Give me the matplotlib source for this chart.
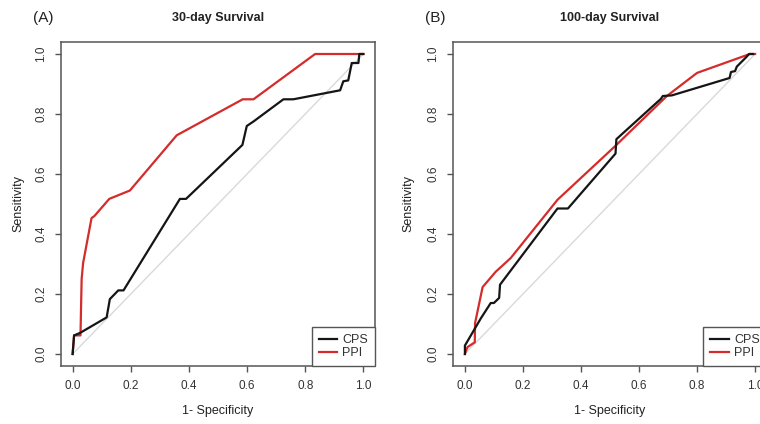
import matplotlib
matplotlib.use("Agg")
import matplotlib.pyplot as plt

plt.rcParams['font.family'] = ['Liberation Sans', 'DejaVu Sans']

# ---- data ----
a_cps_x = [0, 0.005, 0.025, 0.117, 0.128, 0.157, 0.175, 0.369, 0.39, 0.584, 0.599, 0.622,
           0.725, 0.759, 0.92, 0.931, 0.948, 0.96, 0.983, 0.986, 1.0]
a_cps_y = [0, 0.062, 0.07, 0.122, 0.183, 0.212, 0.212, 0.517, 0.517, 0.697, 0.76, 0.775,
           0.849, 0.849, 0.879, 0.909, 0.912, 0.97, 0.97, 1.0, 1.0]
a_ppi_x = [0, 0.005, 0.027, 0.031, 0.036, 0.065, 0.075, 0.126, 0.197, 0.358, 0.585, 0.622,
           0.834, 1.0]
a_ppi_y = [0, 0.062, 0.062, 0.25, 0.303, 0.453, 0.46, 0.517, 0.545, 0.729, 0.849, 0.849,
           1.0, 1.0]

b_cps_x = [0, 0, 0.055, 0.089, 0.1, 0.118, 0.121, 0.319, 0.355, 0.519, 0.522, 0.547, 0.661,
           0.675, 0.682, 0.713, 0.912, 0.917, 0.931, 0.937, 0.97, 0.979, 0.993]
b_cps_y = [0, 0.028, 0.119, 0.17, 0.17, 0.187, 0.231, 0.485, 0.485, 0.668, 0.716, 0.738, 0.838,
           0.85, 0.86, 0.862, 0.92, 0.94, 0.943, 0.958, 0.99, 1.0, 1.0]
b_ppi_x = [0, 0.009, 0.034, 0.035, 0.061, 0.106, 0.158, 0.319, 0.52, 0.696, 0.8, 0.982, 1.0]
b_ppi_y = [0, 0.023, 0.039, 0.103, 0.223, 0.274, 0.32, 0.514, 0.695, 0.86, 0.937, 1.0, 1.0]

ticks = [0.0, 0.2, 0.4, 0.6, 0.8, 1.0]
tick_labels = ["0.0", "0.2", "0.4", "0.6", "0.8", "1.0"]
titles = ["30-day Survival", "100-day Survival"]
panel_tags = ["(A)", "(B)"]
series_names = ["CPS", "PPI"]

W, H = 760, 424
fig = plt.figure(figsize=(W / 100, H / 100), dpi=100)

RED = '#d42b2b'
BLACK = '#151515'
GRID = '#555555'

def px(x0, y0, x1, y1):
    return [x0 / W, 1 - y1 / H, (x1 - x0) / W, (y1 - y0) / H]

boxes = [(61, 42, 375, 366), (453.3, 42, 766.7, 366)]
data = [(a_cps_x, a_cps_y, a_ppi_x, a_ppi_y), (b_cps_x, b_cps_y, b_ppi_x, b_ppi_y)]

for i, (box, d) in enumerate(zip(boxes, data)):
    ax = fig.add_axes(px(*box))
    ax.plot([0, 1], [0, 1], color='#d9d9d9', lw=1.0, zorder=1)
    ax.plot(d[0], d[1], color=BLACK, lw=1.6, label=series_names[0], zorder=3)
    ax.plot(d[2], d[3], color=RED, lw=1.6, label=series_names[1], zorder=2)
    ax.set_xlim(-0.04, 1.04)
    ax.set_ylim(-0.04, 1.04)
    ax.set_xticks(ticks)
    ax.set_xticklabels(tick_labels)
    ax.set_yticks(ticks)
    ax.set_yticklabels(tick_labels, rotation=90, va='center')
    ax.tick_params(direction='out', length=4, width=1.0, color=GRID, labelcolor='#333333',
                   labelsize=8.5, pad=6)
    for s in ax.spines.values():
        s.set_color(GRID)
        s.set_linewidth(1.1)
    h, l = ax.get_legend_handles_labels()
    leg = ax.legend(h, l, loc='lower right', borderaxespad=0, fancybox=False,
                    edgecolor=GRID, framealpha=1, fontsize=9, handlelength=1.5,
                    handletextpad=0.4, labelspacing=0.1, borderpad=0.55)
    leg.get_frame().set_linewidth(1.0)
    for t in leg.get_texts():
        t.set_color('#333333')

    cx = (box[0] + box[2]) / 2
    fig.text(cx / W, 1 - 18 / H, titles[i], ha='center', va='center', fontsize=9,
             fontweight='bold', color='#222222')
    fig.text((43 if i == 0 else 435) / W, 1 - 18 / H, panel_tags[i], ha='center',
             va='center', fontsize=11, color='#222222')
    fig.text(cx / W, 1 - 411 / H, "1- Specificity", ha='center', va='center',
             fontsize=9, color='#222222')
    fig.text((18 if i == 0 else 408.3) / W, 1 - 204 / H, "Sensitivity", ha='center',
             va='center', rotation=90, fontsize=9, color='#222222')

fig.savefig("out.png", dpi=100)
